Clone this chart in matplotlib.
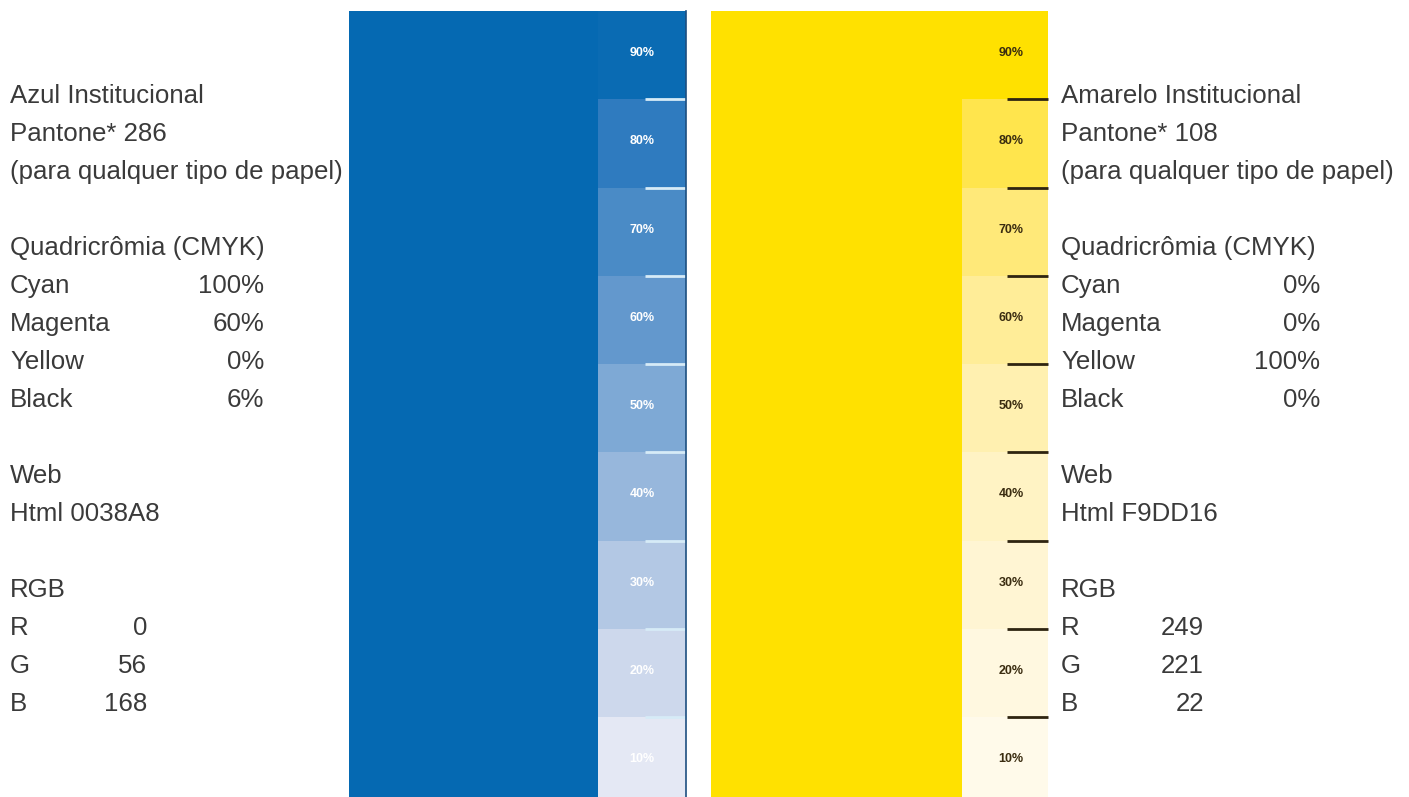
import matplotlib.pyplot as plt

# tint scale shown in the two strips
tint_levels = [90, 80, 70, 60, 50, 40, 30, 20, 10]
blue_tints = ["#0a6bb3", "#2f7bbf", "#4a8bc6", "#6398cd", "#7ea9d5",
              "#97b7dc", "#b3c8e4", "#cdd8ec", "#e4e8f4"]
yellow_tints = ["#ffe100", "#ffe54d", "#ffe979", "#ffed98", "#fff0b0",
                "#fff3c4", "#fff5d3", "#fff8e0", "#fffaea"]

# left column (blue)
blue_title = ["Azul Institucional", "Pantone* 286", "(para qualquer tipo de papel)"]
blue_cmyk = [("Cyan", "100%"), ("Magenta", "60%"), ("Yellow", "0%"), ("Black", "6%")]
blue_html = "Html 0038A8"
blue_rgb = [("R", "0"), ("G", "56"), ("B", "168")]

# right column (yellow)
yellow_title = ["Amarelo Institucional", "Pantone* 108", "(para qualquer tipo de papel)"]
yellow_cmyk = [("Cyan", "0%"), ("Magenta", "0%"), ("Yellow", "100%"), ("Black", "0%")]
yellow_html = "Html F9DD16"
yellow_rgb = [("R", "249"), ("G", "221"), ("B", "22")]

plt.rcParams["font.family"] = ["Liberation Sans", "DejaVu Sans"]

fig = plt.figure(figsize=(14.09, 7.97), dpi=100)
ax = fig.add_axes([0, 0, 1, 1])
ax.set_xlim(0, 1409)
ax.set_ylim(797, 0)
ax.axis("off")

top = 11
step = 88.25
bottoms = [top + i * step for i in range(len(tint_levels))]


def swatch(x0, x1, sx0, label_x, tints, base, line_color, label_color):
    ax.bar((x0 + sx0) / 2, 800 - top, width=sx0 - x0, bottom=top,
           color=base, align="center", linewidth=0)
    ax.bar([(sx0 + x1) / 2] * len(tints), [step + 0.5] * len(tints),
           width=x1 - sx0, bottom=bottoms, color=tints, linewidth=0)
    for b in bottoms[1:]:
        ax.plot([x1 - 41, x1], [b, b], color=line_color, lw=2, solid_capstyle="butt")
    for lvl, b in zip(tint_levels, bottoms):
        ax.text(label_x, b + step / 2 - 2, f"{lvl}%", color=label_color,
                fontsize=9, fontweight="bold", ha="center", va="center")


swatch(349, 686, 598, 642, blue_tints, "#0569b2", "#d6ebf7", "white")
ax.plot([686, 686], [top, 797], color="#1d4f80", lw=1.2)
swatch(711, 1048, 962, 1011, yellow_tints, "#ffe100", "#2e2410", "#3a2c10")


def info(x, val_x, rgb_x, title, cmyk, html, rgb):
    base = 103
    gap = 38
    kw = dict(fontsize=18.6, color="#3a3a3a", va="baseline")
    for i, t in enumerate(title):
        ax.text(x, base + i * gap, t, ha="left", **kw)
    ax.text(x, base + 4 * gap, "Quadricrômia (CMYK)", ha="left", **kw)
    for i, (name, v) in enumerate(cmyk):
        y = base + (5 + i) * gap
        ax.text(x, y, name, ha="left", **kw)
        ax.text(val_x, y, v, ha="right", **kw)
    ax.text(x, base + 10 * gap, "Web", ha="left", **kw)
    ax.text(x, base + 11 * gap, html, ha="left", **kw)
    ax.text(x, base + 13 * gap, "RGB", ha="left", **kw)
    for i, (name, v) in enumerate(rgb):
        y = base + (14 + i) * gap
        ax.text(x, y, name, ha="left", **kw)
        ax.text(rgb_x, y, v, ha="right", **kw)


info(10, 264, 147, blue_title, blue_cmyk, blue_html, blue_rgb)
info(1061, 1320, 1204, yellow_title, yellow_cmyk, yellow_html, yellow_rgb)

fig.savefig("out.png", dpi=100, facecolor="white")
